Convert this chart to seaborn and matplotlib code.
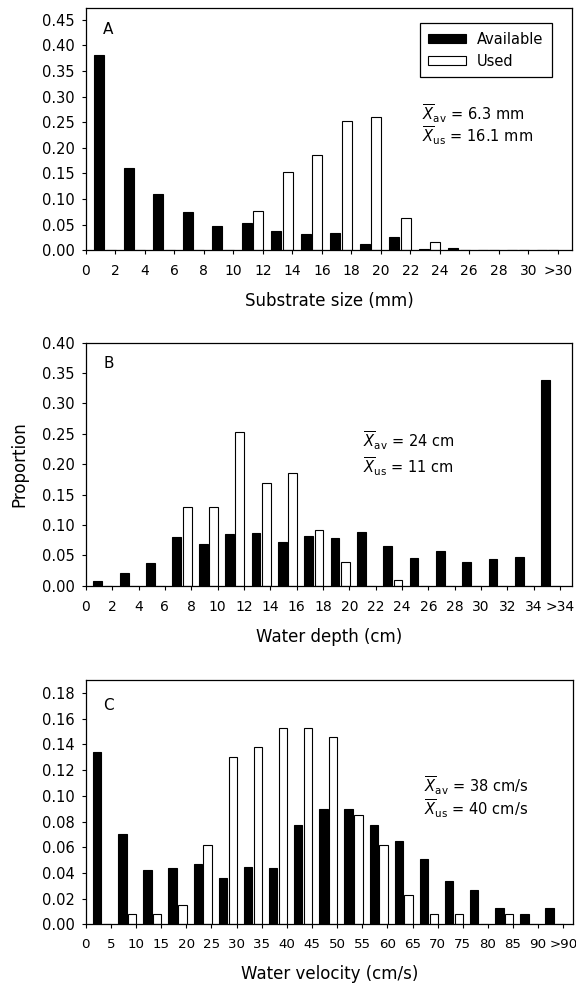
import numpy as np
import pandas as pd
import matplotlib
matplotlib.use("Agg")
import matplotlib.pyplot as plt
import seaborn as sns

# habitat use data (proportion per bin)
edges_a = ["0", "2", "4", "6", "8", "10", "12", "14", "16", "18", "20", "22", "24", "26", "28", "30", ">30"]
avail_a = [0.382, 0.161, 0.109, 0.074, 0.048, 0.053, 0.038, 0.031, 0.033, 0.012, 0.026, 0.003, 0.005, 0, 0, 0]
used_a = [0, 0, 0, 0, 0, 0.077, 0.153, 0.185, 0.253, 0.261, 0.062, 0.016, 0, 0, 0, 0]

edges_b = ["0", "2", "4", "6", "8", "10", "12", "14", "16", "18", "20", "22", "24", "26", "28", "30", "32", "34", ">34"]
avail_b = [0.008, 0.021, 0.038, 0.081, 0.069, 0.085, 0.087, 0.072, 0.082, 0.078, 0.089, 0.066, 0.046, 0.058, 0.040, 0.044, 0.047, 0.339]
used_b = [0, 0, 0, 0.129, 0.129, 0.253, 0.169, 0.185, 0.092, 0.039, 0, 0.009, 0, 0, 0, 0, 0, 0]

edges_c = ["0", "5", "10", "15", "20", "25", "30", "35", "40", "45", "50", "55", "60", "65", "70", "75", "80", "85", "90", ">90"]
avail_c = [0.134, 0.070, 0.042, 0.044, 0.047, 0.036, 0.045, 0.044, 0.077, 0.090, 0.090, 0.077, 0.065, 0.051, 0.034, 0.027, 0.013, 0.008, 0.013]
used_c = [0, 0.008, 0.008, 0.015, 0.062, 0.130, 0.138, 0.153, 0.153, 0.146, 0.085, 0.062, 0.023, 0.008, 0.008, 0, 0.008, 0, 0]

groups = ["Available", "Used"]


def long_df(avail, used):
    n = len(avail)
    return pd.DataFrame({
        "bin": list(range(n)) * 2,
        "group": ["Available"] * n + ["Used"] * n,
        "prop": list(avail) + list(used),
    })


sns.set_style("ticks")
plt.rcParams["font.family"] = ["DejaVu Sans"]
plt.rcParams["mathtext.fontset"] = "dejavusans"
plt.rcParams["text.color"] = "black"
plt.rcParams["axes.labelcolor"] = "black"
plt.rcParams["xtick.color"] = "black"
plt.rcParams["ytick.color"] = "black"

fig = plt.figure(figsize=(5.76, 9.93), dpi=100)

panels = [
    dict(avail=avail_a, used=used_a, edges=edges_a, pos=[0.149, 0.748, 0.844, 0.244],
         ymax=0.473, ystep=0.05, ytop=0.45, extra=0.48, letter="A",
         xlabel="Substrate size (mm)", lpos=(0.036, 0.891),
         stats=[r"$\overline{X}_{\rm av}$ = 6.3 mm", r"$\overline{X}_{\rm us}$ = 16.1 mm"],
         spos=(0.691, 0.536, 0.445)),
    dict(avail=avail_b, used=used_b, edges=edges_b, pos=[0.149, 0.410, 0.844, 0.245],
         ymax=0.40, ystep=0.05, ytop=0.40, extra=0.45, letter="B",
         xlabel="Water depth (cm)", lpos=(0.036, 0.895),
         stats=[r"$\overline{X}_{\rm av}$ = 24 cm", r"$\overline{X}_{\rm us}$ = 11 cm"],
         spos=(0.570, 0.570, 0.464)),
    dict(avail=avail_c, used=used_c, edges=edges_c, pos=[0.149, 0.069, 0.846, 0.246],
         ymax=0.19, ystep=0.02, ytop=0.18, extra=0.39, letter="C",
         xlabel="Water velocity (cm/s)", lpos=(0.036, 0.88),
         stats=[r"$\overline{X}_{\rm av}$ = 38 cm/s", r"$\overline{X}_{\rm us}$ = 40 cm/s"],
         spos=(0.693, 0.543, 0.447)),
]

for k, p in enumerate(panels):
    ax = fig.add_axes(p["pos"])
    df = long_df(p["avail"], p["used"])
    n = len(p["avail"])
    sns.barplot(data=df, x="bin", y="prop", hue="group", hue_order=groups,
                palette={"Available": "black", "Used": "white"},
                edgecolor="black", linewidth=0.8, width=0.78, gap=0.15,
                legend=(k == 0), ax=ax)

    shift = 0.65
    ax.set_xticks(np.arange(n + 1) - shift)
    ax.set_xticklabels(p["edges"])
    ax.set_xlim(-shift, n - shift + p["extra"])
    ax.set_ylim(0, p["ymax"])
    yt = np.arange(0, p["ytop"] + 1e-9, p["ystep"])
    ax.set_yticks(yt)
    ax.set_yticklabels([f"{v:.2f}" for v in yt])

    for s in ax.spines.values():
        s.set_visible(True)
        s.set_linewidth(0.9)
        s.set_color("black")
    ax.tick_params(axis="both", direction="out", length=3, width=0.8,
                   color="black", labelcolor="black")
    ax.tick_params(axis="x", pad=7, labelsize=10 if k < 2 else 9.6)
    ax.tick_params(axis="y", pad=5, labelsize=10.5)

    ax.set_xlabel(p["xlabel"], fontsize=12, labelpad=10)
    if k == 1:
        ax.set_ylabel("Proportion", fontsize=12, labelpad=10)
    else:
        ax.set_ylabel("")

    ax.text(p["lpos"][0], p["lpos"][1], p["letter"], transform=ax.transAxes,
            fontsize=11, va="baseline", ha="left")
    ax.text(p["spos"][0], p["spos"][1], p["stats"][0], transform=ax.transAxes,
            fontsize=10.5, va="baseline", ha="left")
    ax.text(p["spos"][0], p["spos"][2], p["stats"][1], transform=ax.transAxes,
            fontsize=10.5, va="baseline", ha="left")

    if k == 0:
        leg = ax.legend(loc="upper right", bbox_to_anchor=(0.958, 0.937),
                        fontsize=10.5, frameon=True, fancybox=False,
                        handlelength=2.6, handleheight=0.55, handletextpad=0.7,
                        borderpad=0.6, labelspacing=0.45, borderaxespad=0)
        leg.get_frame().set_edgecolor("black")
        leg.get_frame().set_linewidth(0.9)
        leg.get_frame().set_alpha(1)

fig.savefig("out.png", dpi=100)
